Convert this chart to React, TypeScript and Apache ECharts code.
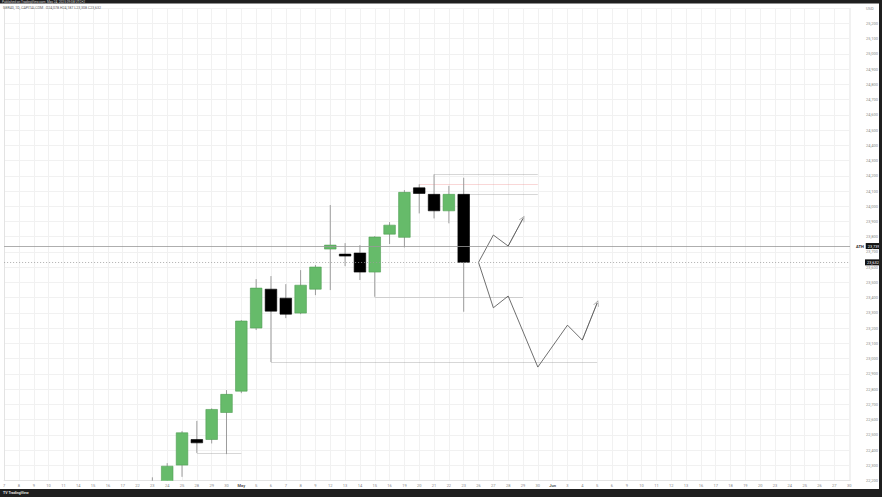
import React, { useEffect, useRef } from "react";
import * as echarts from "echarts";

// Time axis: one label per trading day (index = position on the axis)
const dayLabels = [
  "7", "8", "9", "10", "11", "14", "15", "16", "17", "22", "23", "24", "25", "28", "29", "30",
  "May", "5", "6", "7", "8", "9", "12", "13", "14", "15", "16", "19", "20", "21", "22", "23",
  "26", "27", "28", "29", "30", "Jun", "3", "4", "5", "6", "9", "10", "11", "12", "13",
  "16", "17", "18", "19", "20", "23", "24", "25", "26", "27", "30",
];
const monthLabels = ["May", "Jun"];

// Daily candles (index into dayLabels)
const candleIndex = [10, 11, 12, 13, 14, 15, 16, 17, 18, 19, 20, 21, 22, 23, 24, 25, 26, 27, 28, 29, 30, 31];
const opens = [21980, 22105, 22302, 22470, 22470, 22647, 22787, 23201, 23456, 23397, 23299, 23456, 23719, 23686, 23693, 23568, 23817, 23796, 24121, 24078, 23970, 24078];
const closes = [22150, 22295, 22514, 22448, 22667, 22766, 23247, 23463, 23312, 23292, 23482, 23601, 23745, 23673, 23568, 23798, 23876, 24091, 24084, 23970, 24078, 23632];
const lows = [21900, 22050, 22225, 22382, 22444, 22374, 22774, 23188, 22978, 23266, 23292, 23417, 23450, 23607, 23516, 23406, 23752, 23730, 23953, 23920, 23888, 23308];
const highs = [22222, 22315, 22525, 22592, 22674, 22794, 23253, 23522, 23542, 23489, 23581, 23614, 24008, 23758, 23745, 23804, 23896, 24106, 24144, 24209, 24134, 24187];

// Price axis
const priceMin = 22200;
const priceMax = 25300;
const priceStep = 100;
const athPrice = 23739;
const lastPrice = 23632;

// Horizontal level lines: start day, end day, price, kind
const levelStart = [13, 18, 25, 28, 29, 31];
const levelEnd = [16, 40, 35, 36, 36, 36];
const levelPrice = [22382, 22978, 23406, 24144, 24209, 24078];
const levelKind = ["gray", "gray", "gray", "red", "gray", "gray"];

// Projected paths
const upPathDays = [32, 33, 34, 35];
const upPathPrices = [23632, 23811, 23739, 23920];
const downPathDays = [32, 33, 34, 36, 38, 39, 40];
const downPathPrices = [23632, 23334, 23411, 22945, 23220, 23122, 23365];

const headerLine1 = "Published on TradingView.com, May 24, 2025 09:08 UTC+2";
const headerLine2 = "GER40, 1D, CAPITALCOM   O24,078 H24,187 L23,308 C23,632";

const fmt = (v: number) => Math.round(v).toLocaleString("en-US");

export default function App() {
  const ref = useRef<HTMLDivElement>(null);

  useEffect(() => {
    if (!ref.current) return;
    const chart = echarts.init(ref.current, undefined, { renderer: "svg" });

    const candleData = candleIndex.map((d, i) => [d, opens[i], closes[i], lows[i], highs[i]]);
    const levelData = levelStart.map((s, i) => ({
      coords: [
        [s, levelPrice[i]],
        [levelEnd[i], levelPrice[i]],
      ],
      lineStyle: { color: levelKind[i] === "red" ? "#ef9a9a" : "#9a9a9a", width: 0.8 },
    }));
    const upData = upPathDays.map((d, i) => [d, upPathPrices[i]]);
    const downData = downPathDays.map((d, i) => [d, downPathPrices[i]]);
    const arrowData = [upData, downData].map((p) => ({ coords: [p[p.length - 2], p[p.length - 1]] }));

    const maxX = (850 - 2.7) / 14.85;
    const font = "Roboto, 'Liberation Sans', sans-serif";

    chart.setOption({
      animation: false,
      backgroundColor: "#ffffff",
      grid: { left: 2.7, right: 32, top: 8.06, bottom: 16.34 },
      xAxis: {
        type: "value",
        min: 0,
        max: maxX,
        interval: 1,
        axisLine: { show: true, lineStyle: { color: "#e3e3e3", width: 1 } },
        axisTick: { show: false },
        splitLine: { show: true, lineStyle: { color: "#f1f1f1", width: 1 } },
        axisLabel: {
          show: true,
          margin: 2.5,
          fontSize: 4,
          fontFamily: font,
          color: "#8a8a8a",
          showMaxLabel: false,
          formatter: (v: number) => {
            if (!Number.isInteger(v)) return "";
            const t = dayLabels[v];
            if (t === undefined) return "";
            return monthLabels.includes(t) ? `{m|${t}}` : t;
          },
          rich: { m: { fontSize: 4, fontWeight: "bold", color: "#555", fontFamily: font } },
        },
      },
      yAxis: {
        type: "value",
        position: "right",
        min: priceMin,
        max: priceMax,
        interval: priceStep,
        axisLine: { show: true, lineStyle: { color: "#e3e3e3", width: 1 } },
        axisTick: { show: false },
        splitLine: { show: true, lineStyle: { color: "#f1f1f1", width: 1 } },
        axisLabel: {
          show: true,
          margin: 16,
          fontSize: 4,
          fontFamily: font,
          color: "#8a8a8a",
          showMinLabel: true,
          showMaxLabel: true,
          formatter: (v: number) => (v === priceMax ? "USD" : fmt(v)),
        },
      },
      series: [
        {
          type: "lines",
          coordinateSystem: "cartesian2d",
          silent: true,
          z: 2,
          data: levelData,
          symbol: ["none", "none"],
        },
        {
          type: "custom",
          z: 3,
          clip: true,
          data: candleData,
          encode: { x: 0, y: [1, 2, 3, 4] },
          renderItem: (params: any, api: any) => {
            const x = api.value(0);
            const o = api.value(1);
            const c = api.value(2);
            const l = api.value(3);
            const h = api.value(4);
            const pO = api.coord([x, o]);
            const pC = api.coord([x, c]);
            const pL = api.coord([x, l]);
            const pH = api.coord([x, h]);
            const up = c >= o;
            const w = 11.6;
            const top = Math.min(pO[1], pC[1]);
            const bot = Math.max(pO[1], pC[1]);
            return {
              type: "group",
              children: [
                {
                  type: "line",
                  shape: { x1: pH[0], y1: pH[1], x2: pL[0], y2: pL[1] },
                  style: { stroke: "#9c9c9c", lineWidth: 1 },
                },
                {
                  type: "rect",
                  shape: { x: pO[0] - w / 2, y: top, width: w, height: Math.max(bot - top, 1.6) },
                  style: {
                    fill: up ? "#66bb6a" : "#000000",
                    stroke: up ? "#4f9d53" : "#000000",
                    lineWidth: 0.6,
                  },
                },
              ],
            };
          },
          markLine: {
            silent: true,
            symbol: ["none", "none"],
            data: [
              {
                yAxis: athPrice,
                lineStyle: { color: "#999999", type: "solid", width: 0.8 },
                label: {
                  show: true,
                  position: "end",
                  distance: 6,
                  formatter: () => `{a|ATH}{b|${fmt(athPrice)}}`,
                  rich: {
                    a: { fontSize: 4, color: "#222", fontFamily: font, fontWeight: "bold", padding: [0, 2, 0, 0] },
                    b: {
                      fontSize: 4,
                      color: "#ffffff",
                      backgroundColor: "#131313",
                      padding: [1, 2, 1, 2],
                      fontFamily: font,
                    },
                  },
                },
              },
              {
                yAxis: lastPrice,
                lineStyle: { color: "#9a9a9a", type: [1, 2], width: 0.8 },
                label: {
                  show: true,
                  position: "end",
                  distance: 15,
                  formatter: () => fmt(lastPrice),
                  fontSize: 4,
                  color: "#ffffff",
                  backgroundColor: "#131313",
                  padding: [1, 2, 1, 2],
                  fontFamily: font,
                },
              },
            ],
          },
        },
        {
          type: "line",
          data: upData,
          symbol: "none",
          z: 4,
          lineStyle: { color: "#4a4a4a", width: 0.8 },
        },
        {
          type: "line",
          data: downData,
          symbol: "none",
          z: 4,
          lineStyle: { color: "#4a4a4a", width: 0.8 },
        },
        {
          type: "lines",
          coordinateSystem: "cartesian2d",
          silent: true,
          z: 4,
          data: arrowData,
          symbol: ["none", "path://M0,10 L5,0 L10,10 L8.8,10 L5,2.6 L1.2,10 Z"],
          symbolSize: [6, 6],
          lineStyle: { color: "#4a4a4a", width: 0.8 },
          itemStyle: { color: "#4a4a4a" },
        },
      ],
      graphic: [
        { type: "rect", left: 0, top: 0, shape: { width: 882, height: 3.5 }, style: { fill: "#1f1f1f" }, z: 100 },
        {
          type: "text",
          left: 2,
          top: 0,
          style: { text: headerLine1, fill: "#d0d0d0", fontSize: 3.2, fontFamily: font },
          z: 101,
        },
        {
          type: "text",
          left: 3,
          top: 6,
          style: { text: headerLine2, fill: "#666666", fontSize: 3.6, fontFamily: font },
          z: 101,
        },
        { type: "rect", left: 879, top: 0, shape: { width: 3, height: 497 }, style: { fill: "#1f1f1f" }, z: 100 },
        { type: "rect", left: 0, top: 489, shape: { width: 882, height: 8 }, style: { fill: "#1f1f1f" }, z: 100 },
        {
          type: "text",
          left: 3,
          top: 491,
          style: { text: "TV TradingView", fill: "#e0e0e0", fontSize: 3.6, fontFamily: font, fontWeight: "bold" },
          z: 101,
        },
      ],
    });

    return () => chart.dispose();
  }, []);

  return (
    <div
      ref={ref}
      style={{ position: "fixed", left: 0, top: 0, width: 882, height: 497, background: "#fff" }}
    />
  );
}
